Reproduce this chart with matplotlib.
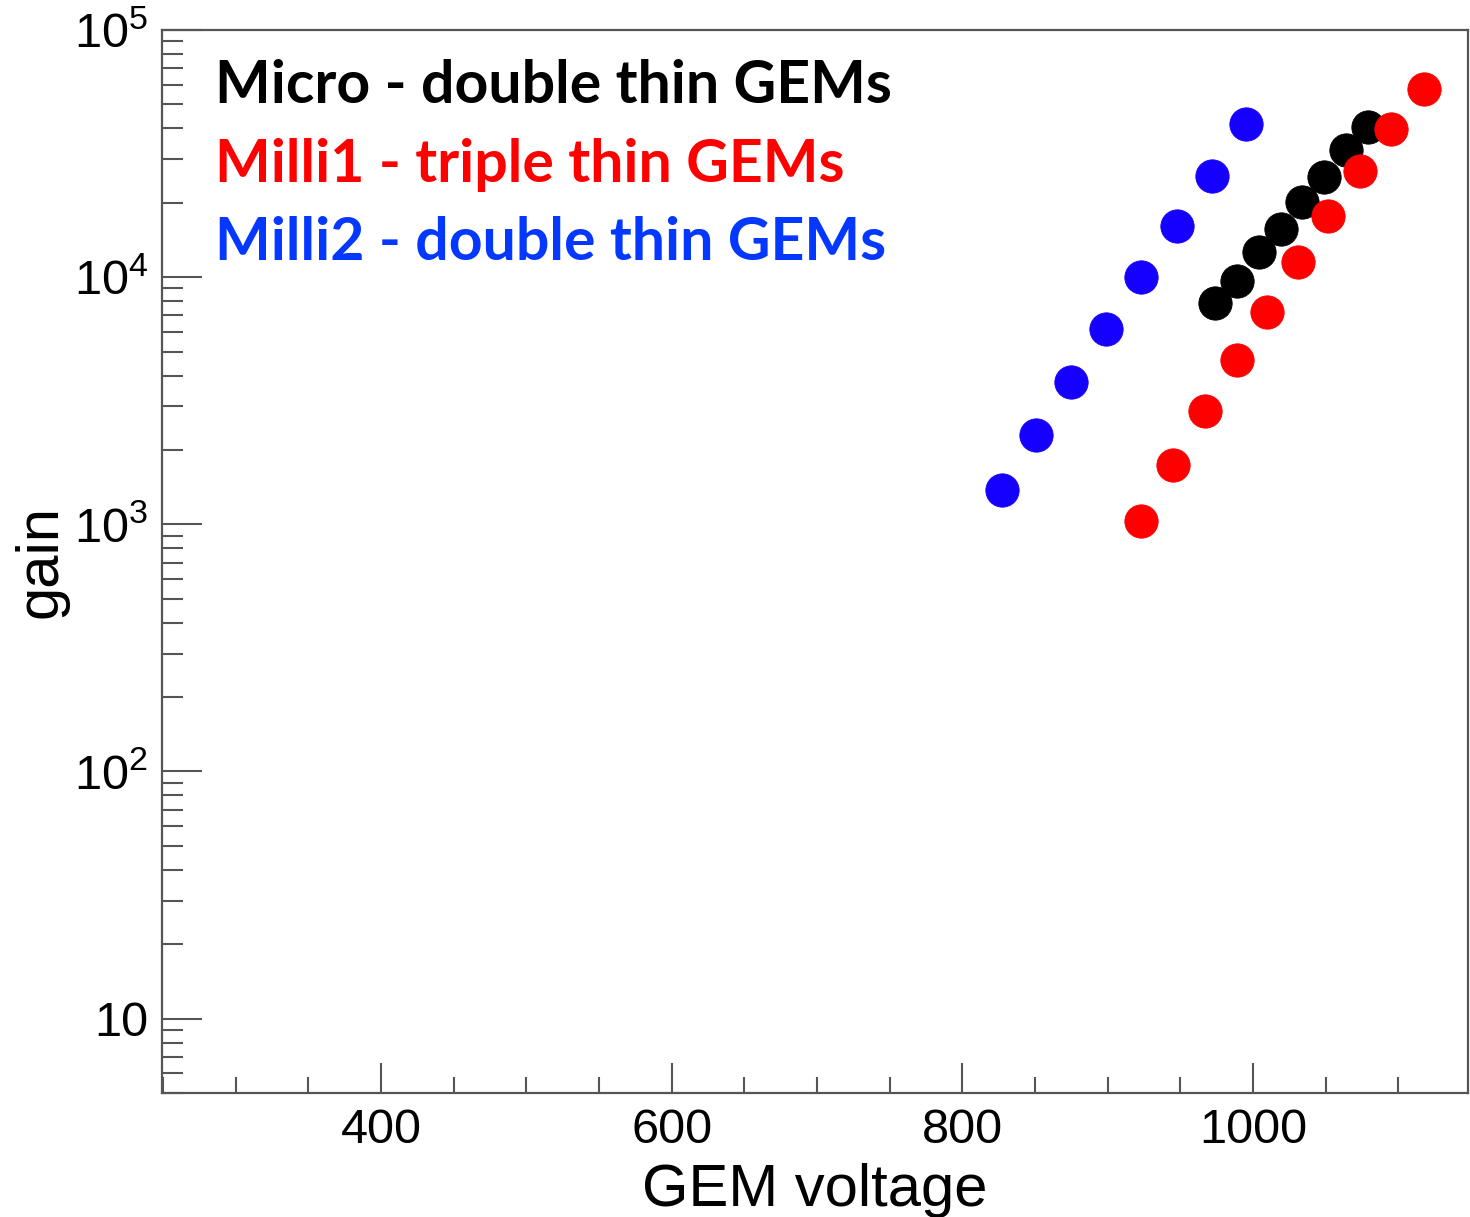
import matplotlib
matplotlib.use("Agg")
import matplotlib.pyplot as plt
from matplotlib.ticker import FixedLocator, LogLocator, NullFormatter, MultipleLocator

plt.rcParams['mathtext.fontset'] = 'custom'
plt.rcParams['mathtext.rm'] = 'Liberation Sans'
plt.rcParams['font.family'] = ['Liberation Sans', 'DejaVu Sans']

# Data
micro_v = [974, 989, 1004, 1019, 1034, 1049, 1064, 1079]
micro_gain = [7840, 9620, 12600, 15730, 20050, 25530, 32800, 40620]

milli1_v = [923, 945, 967, 989, 1010, 1031, 1052, 1074, 1095, 1118]
milli1_gain = [1030, 1735, 2865, 4600, 7260, 11470, 17750, 26970, 39900, 57900]

milli2_v = [827, 851, 875, 899, 923, 948, 972, 995]
milli2_gain = [1374, 2291, 3756, 6152, 9980, 16040, 25780, 41800]

series_labels = ["Micro - double thin GEMs", "Milli1 - triple thin GEMs", "Milli2 - double thin GEMs"]
marker_colors = ["#000000", "#FF0000", "#1500FF"]
text_colors = ["#000000", "#FF0000", "#0538FF"]

x_major = [400, 600, 800, 1000]
y_major = [10, 1e2, 1e3, 1e4, 1e5]
y_ticklabels = ["10", r"$\mathregular{10^{2}}$", r"$\mathregular{10^{3}}$",
                r"$\mathregular{10^{4}}$", r"$\mathregular{10^{5}}$"]

fig = plt.figure(figsize=(14.7, 12.17), dpi=100)
ax = fig.add_axes([162/1470, 1 - 1093/1217, (1468-162)/1470, (1093-30)/1217])

for v, g, c in [(micro_v, micro_gain, marker_colors[0]),
                (milli1_v, milli1_gain, marker_colors[1]),
                (milli2_v, milli2_gain, marker_colors[2])]:
    ax.plot(v, g, linestyle='none', marker='o', markersize=24, color=c,
            markeredgewidth=0.6, markeredgecolor=c, zorder=3)

ax.set_yscale('log')
ax.set_xlim(249.3, 1148)
ax.set_ylim(5, 1e5)

spine_col = '#555555'
for s in ax.spines.values():
    s.set_color(spine_col)
    s.set_linewidth(1.6)

ax.xaxis.set_major_locator(FixedLocator(x_major))
ax.xaxis.set_minor_locator(MultipleLocator(50))
ax.set_xticklabels([str(v) for v in x_major])
ax.yaxis.set_major_locator(FixedLocator(y_major))
ax.yaxis.set_minor_locator(LogLocator(base=10, subs=range(2, 10)))
ax.yaxis.set_minor_formatter(NullFormatter())
ax.set_yticklabels(y_ticklabels)

ax.tick_params(axis='x', which='major', direction='in', length=21.5, width=1.5,
               color=spine_col, labelsize=35, pad=11)
ax.tick_params(axis='x', which='minor', direction='in', length=11.5, width=1.5,
               color=spine_col)
ax.tick_params(axis='y', which='major', direction='in', length=29, width=1.5,
               color=spine_col, labelsize=35, pad=10)
ax.tick_params(axis='y', which='minor', direction='in', length=15, width=1.5,
               color=spine_col)

ax.set_xlabel("GEM voltage", fontsize=43, labelpad=7)
ax.set_ylabel("gain", fontsize=43, labelpad=4)

ys = [103, 182, 260]
for lab, col, yb in zip(series_labels, text_colors, ys):
    fig.text(215/1470, 1 - yb/1217, lab, color=col, fontsize=42.5, fontweight='bold',
             family=['Lato', 'DejaVu Sans'], ha='left', va='baseline')

fig.savefig("out.png", dpi=100)
